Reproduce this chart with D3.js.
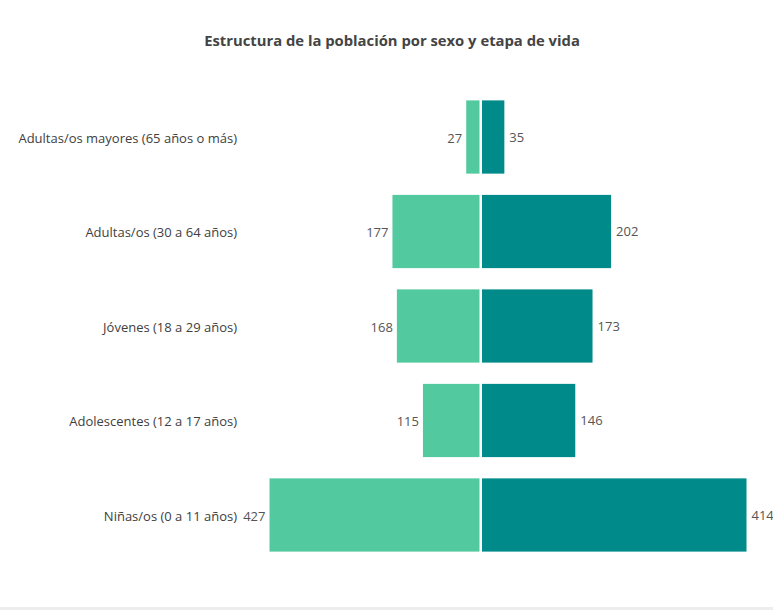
<!DOCTYPE html>
<html>
<head>
<meta charset="utf-8">
<script src="https://cdn.jsdelivr.net/npm/d3@7"></script>
<style>
  html, body { margin: 0; padding: 0; background: #fff; }
  svg { display: block; font-family: "Segoe UI", "Open Sans", "Noto Sans", sans-serif; }
</style>
</head>
<body>
<svg id="chart" width="773" height="610"></svg>
<script>
// Etapas de vida (de arriba hacia abajo)
const categories = [
  "Adultas/os mayores (65 años o más)",
  "Adultas/os (30 a 64 años)",
  "Jóvenes (18 a 29 años)",
  "Adolescentes (12 a 17 años)",
  "Niñas/os (0 a 11 años)"
];
// Mujeres (izquierda) y hombres (derecha)
const mujeres = [27, 177, 168, 115, 427];
const hombres = [35, 202, 173, 146, 414];
const title = "Estructura de la población por sexo y etapa de vida";

const colorMujeres = "#52c99e";
const colorHombres = "#008a8a";

const W = 773, H = 610;
const svg = d3.select("#chart");
const centerL = 479.5, centerR = 482;

const y = d3.scaleBand()
  .domain(categories)
  .range([90, 562])
  .paddingInner(0.225)
  .paddingOuter(0.11);

// Cada lado tiene su propia escala, con dominio hasta su máximo
const xL = d3.scaleLinear().domain([0, d3.max(mujeres)]).range([centerL, 269.5]);
const xR = d3.scaleLinear().domain([0, d3.max(hombres)]).range([centerR, 746.5]);

// Título
svg.append("text")
  .attr("x", 392).attr("y", 46)
  .attr("text-anchor", "middle")
  .attr("font-size", 14.8).attr("font-weight", 700)
  .attr("fill", "#444")
  .text(title);

const rows = categories.map((c, i) => ({ c, m: mujeres[i], h: hombres[i] }));

// Barras de mujeres
svg.append("g").selectAll("rect").data(rows).join("rect")
  .attr("x", d => xL(d.m))
  .attr("y", d => y(d.c))
  .attr("width", d => xL(0) - xL(d.m))
  .attr("height", y.bandwidth())
  .attr("fill", colorMujeres);

// Barras de hombres
svg.append("g").selectAll("rect").data(rows).join("rect")
  .attr("x", xR(0))
  .attr("y", d => y(d.c))
  .attr("width", d => xR(d.h) - xR(0))
  .attr("height", y.bandwidth())
  .attr("fill", colorHombres);

// Etiquetas de valores
svg.append("g").selectAll("text").data(rows).join("text")
  .attr("x", d => xL(d.m) - 4)
  .attr("y", d => y(d.c) + y.bandwidth() / 2 + 1)
  .attr("dy", "0.35em")
  .attr("text-anchor", "end")
  .attr("font-size", 13).attr("fill", "#555")
  .text(d => d.m);

svg.append("g").selectAll("text").data(rows).join("text")
  .attr("x", d => xR(d.h) + 5)
  .attr("y", d => y(d.c) + y.bandwidth() / 2)
  .attr("dy", "0.35em")
  .attr("text-anchor", "start")
  .attr("font-size", 13).attr("fill", "#555")
  .text(d => d.h);

// Eje de categorías
const axis = svg.append("g").attr("transform", "translate(237,1.5)")
  .call(d3.axisLeft(y).tickSize(0).tickPadding(0));
axis.select(".domain").remove();
axis.selectAll("text")
  .attr("font-size", 13).attr("fill", "#404040")
  .attr("font-family", "\"Segoe UI\", \"Open Sans\", \"Noto Sans\", sans-serif");

// Línea inferior
svg.append("rect")
  .attr("x", 0).attr("y", 607).attr("width", W).attr("height", 3)
  .attr("fill", "#ededed");
</script>
</body>
</html>
